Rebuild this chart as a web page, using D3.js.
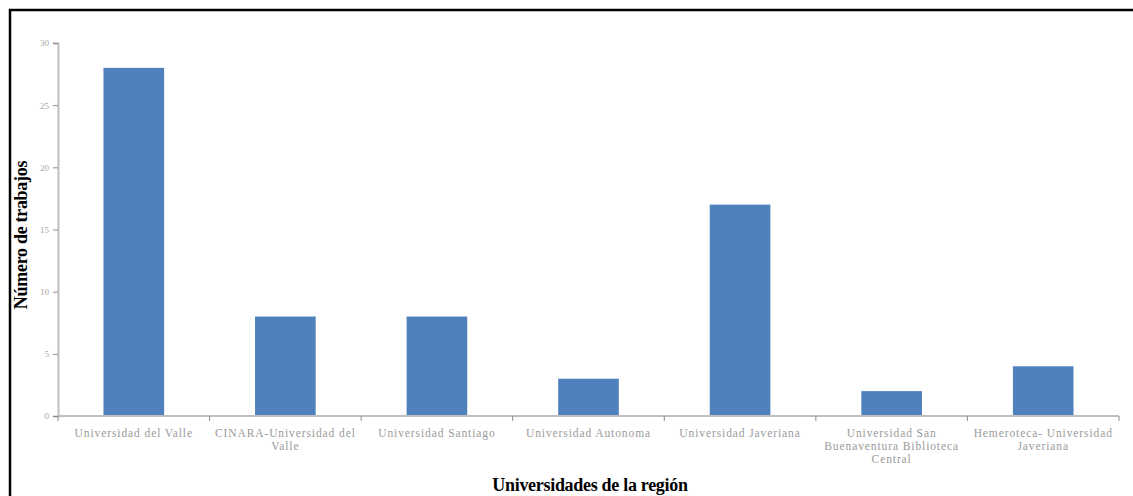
<!DOCTYPE html>
<html><head><meta charset="utf-8">
<script src="https://cdn.jsdelivr.net/npm/d3@7"></script>
<style>body{margin:0;background:#fff}svg{display:block}</style>
</head><body>
<svg id="c" width="1133" height="496"></svg>
<script>
const categories = [
  ["Universidad del Valle"],
  ["CINARA-Universidad del", "Valle"],
  ["Universidad Santiago"],
  ["Universidad Autonoma"],
  ["Universidad Javeriana"],
  ["Universidad San", "Buenaventura Biblioteca", "Central"],
  ["Hemeroteca- Universidad", "Javeriana"]
];
const values = [28, 8, 8, 3, 17, 2, 4];
const yTicks = [0, 5, 10, 15, 20, 25, 30];
const yTitle = "Número de trabajos";
const xTitle = "Universidades de la región";

const svg = d3.select("#c");
const m = {left: 58, right: 1119, top: 43, bottom: 416};

svg.append("rect").attr("x", 10).attr("y", 10).attr("width", 1140).attr("height", 500)
  .attr("fill", "none").attr("stroke", "#000").attr("stroke-width", 2.5);

const keys = categories.map((d, i) => i);
const x = d3.scaleBand().domain(keys).range([m.left, m.right]).paddingInner(0.6).paddingOuter(0.3);
const y = d3.scaleLinear().domain([0, 30]).range([m.bottom, m.top]);

svg.selectAll("rect.bar").data(values).enter().append("rect").attr("class", "bar")
  .attr("x", (d, i) => x(i)).attr("width", x.bandwidth())
  .attr("y", d => y(d)).attr("height", d => y(0) - y(d))
  .attr("fill", "#4f81bd");

// y axis
const ya = svg.append("g").attr("transform", `translate(${m.left},0)`)
  .call(d3.axisLeft(y).tickValues(yTicks).tickSize(5).tickPadding(4));
ya.select(".domain").attr("stroke", "#bfbfbf").attr("stroke-width", 2);
ya.selectAll(".tick line").attr("stroke", "#8c8c8c");
ya.selectAll(".tick text").attr("fill", "#a6a6a6").style("font-family", "Liberation Serif")
  .style("font-size", "9px");

// x axis: ticks at band boundaries
const step = x.step();
const xa = svg.append("g").attr("transform", `translate(0,${m.bottom})`);
xa.append("line").attr("x1", m.left).attr("x2", m.right).attr("stroke", "#bfbfbf").attr("stroke-width", 2);
const bounds = d3.range(categories.length + 1).map(i => m.left + i * step);
xa.selectAll("line.t").data(bounds).enter().append("line").attr("class", "t")
  .attr("x1", d => d).attr("x2", d => d).attr("y1", 0).attr("y2", 5).attr("stroke", "#8c8c8c");
const lab = xa.selectAll("text.cat").data(categories).enter().append("text").attr("class", "cat")
  .attr("x", (d, i) => x(i) + x.bandwidth() / 2).attr("y", 21)
  .attr("text-anchor", "middle").attr("fill", "#9a9a9a")
  .style("font-family", "Liberation Serif").style("font-size", "11.5px")
  .style("letter-spacing", "0.9px");
lab.each(function(d) {
  const t = d3.select(this);
  d.forEach((line, j) => t.append("tspan").attr("x", t.attr("x")).attr("dy", j === 0 ? 0 : 13).text(line));
});

// titles
svg.append("text").attr("transform", "translate(27,235) rotate(-90)")
  .attr("text-anchor", "middle").style("font-family", "Liberation Serif")
  .style("font-weight", "bold").style("font-size", "18px").attr("fill", "#000")
  .style("letter-spacing", "-0.3px").text(yTitle);
svg.append("text").attr("x", 590).attr("y", 491)
  .attr("text-anchor", "middle").style("font-family", "Liberation Serif")
  .style("font-weight", "bold").style("font-size", "18px").attr("fill", "#000")
  .style("letter-spacing", "-0.3px").text(xTitle);
</script>
</body></html>
